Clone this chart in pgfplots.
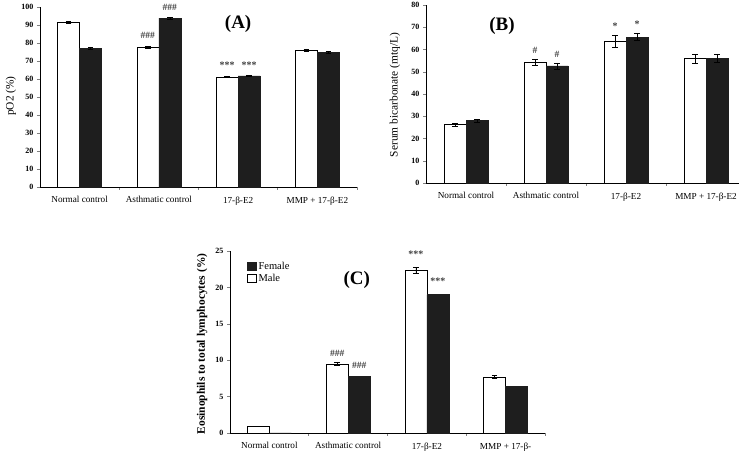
\documentclass[border=0pt]{standalone}
\usepackage{pgfplots}
\pgfplotsset{compat=1.18}
\usepackage{fontspec}
\setmainfont{Liberation Serif}
\definecolor{barblack}{HTML}{1E1E1E}
\pgfplotsset{
  panel/.style={
    scale only axis, anchor=south west,
    xmin=-0.5, xmax=3.5, ymin=0,
    axis x line*=bottom, axis y line*=left,
    axis line style={-, line width=0.9pt},
    ybar=0pt, bar width=22pt,
    xtick={0,1,2,3},
    major x tick style={draw=none},
    minor xtick={0.5,1.5,2.5,3.5},
    minor x tick style={line width=0.8pt},
    minor tick length=3pt,
    major tick length=3pt,
    tick align=outside,
    /pgf/number format/assume math mode=true,
    yticklabel style={font=\bfseries\fontsize{8}{9}\selectfont},
    xticklabel style={font=\fontsize{9.2}{10}\selectfont, yshift=-3pt},
    error bars/y dir=both, error bars/y explicit,
    error bars/error bar style={black, line width=0.5pt},
    error bars/error mark options={rotate=90, mark size=2.8pt, black, line width=0.5pt},
    clip=false,
  },
}
\tikzset{
  wbar/.style={fill=white, draw=black, line width=0.6pt},
  kbar/.style={fill=barblack, draw=barblack, line width=0.6pt},
  hash/.style={font=\bfseries\fontsize{9.5}{10}\selectfont, text=black!75},
  star/.style={font=\bfseries\fontsize{10}{10}\selectfont, text=black!75},
  ptitle/.style={font=\bfseries\fontsize{19}{20}\selectfont},
}
\begin{document}
\begin{tikzpicture}
\useasboundingbox (0pt,0pt) rectangle (739pt,454pt);
% ---------- Panel A ----------
\begin{axis}[panel, at={(40pt,267pt)}, width=317pt, height=180pt,
  ymax=100, ytick={0,10,...,100},
  xticklabels={Normal control, Asthmatic control, 17-β-E2, MMP + 17-β-E2}]
\addplot[wbar] coordinates {(0,91.4) +- (0,0.5) (1,77.6) +- (0,0.5) (2,61.1) +- (0,0.4) (3,76.1) +- (0,0.6)};
\addplot[kbar] coordinates {(0,77.2) +- (0,0.6) (1,93.8) +- (0,0.6) (2,61.7) +- (0,0.4) (3,74.8) +- (0,0.5)};
\node[hash] at (axis cs:1,84) [xshift=-11pt] {\#\#\#};
\node[hash] at (axis cs:1,100) [xshift=11pt] {\#\#\#};
\node[star] at (axis cs:2,67.5) [xshift=-11pt] {***};
\node[star] at (axis cs:2,67.5) [xshift=11pt] {***};
\node[ptitle] at (axis cs:2.0,90.5) {(A)};
\end{axis}
\node[rotate=90, font=\fontsize{11.4}{12}\selectfont] at (11pt,358pt) {pO2 (\%)};
% ---------- Panel B ----------
\begin{axis}[panel, at={(426pt,271pt)}, width=320pt, height=178pt,
  ymax=80, ytick={0,10,...,80},
  xticklabels={Normal control, Asthmatic control, 17-β-E2, MMP + 17-β-E2}]
\addplot[wbar] coordinates {(0,26.2) +- (0,0.5) (1,54.2) +- (0,1.2) (2,63.7) +- (0,2.5) (3,55.9) +- (0,2.0)};
\addplot[kbar] coordinates {(0,28.1) +- (0,0.6) (1,52.6) +- (0,1.4) (2,65.6) +- (0,1.5) (3,55.9) +- (0,1.8)};
\node[hash] at (axis cs:1,59.6) [xshift=-11pt] {\#};
\node[hash] at (axis cs:1,57.6) [xshift=11pt] {\#};
\node[star] at (axis cs:2,70.3) [xshift=-11pt] {*};
\node[star] at (axis cs:2,71.5) [xshift=11pt] {*};
\node[ptitle] at (axis cs:0.45,70.5) {(B)};
\end{axis}
\node[rotate=90, font=\fontsize{11.4}{12}\selectfont] at (395pt,359pt) {Serum bicarbonate (mtq/L)};
% ---------- Panel C ----------
\begin{axis}[panel, at={(230pt,21pt)}, width=315pt, height=182pt,
  ymax=25, ytick={0,5,...,25},
  xticklabels={Normal control, Asthmatic control, 17-β-E2, MMP + 17-β-},
  reverse legend,
  legend style={draw=none, fill=none, at={(axis description cs:0.05,0.955)}, anchor=north west,
    font=\fontsize{10.5}{11}\selectfont, row sep=-1pt, inner sep=1pt},
  legend cell align=left,
  legend image code/.code={\draw[#1, line width=0.6pt] (0pt,-3.5pt) rectangle (9pt,4.5pt);}]
\addplot[wbar] coordinates {(0,0.92) (1,9.5) +- (0,0.2) (2,22.4) +- (0,0.4) (3,7.7) +- (0,0.2)};
\addplot[kbar] coordinates {(0,0) (1,7.8) (2,19.0) (3,6.4)};
\legend{Male, Female}
\node[hash] at (axis cs:1,11.0) [xshift=-11pt] {\#\#\#};
\node[hash] at (axis cs:1,9.3) [xshift=11pt] {\#\#\#};
\node[star] at (axis cs:2,24.5) [xshift=-11pt] {***};
\node[star] at (axis cs:2,20.9) [xshift=11pt] {***};
\node[ptitle] at (axis cs:1.11,21.0) {(C)};
\end{axis}
\node[rotate=90, font=\bfseries\fontsize{11.5}{12}\selectfont] at (202pt,110pt) {Eosinophils to total lymphocytes (\%)};
\end{tikzpicture}
\end{document}
